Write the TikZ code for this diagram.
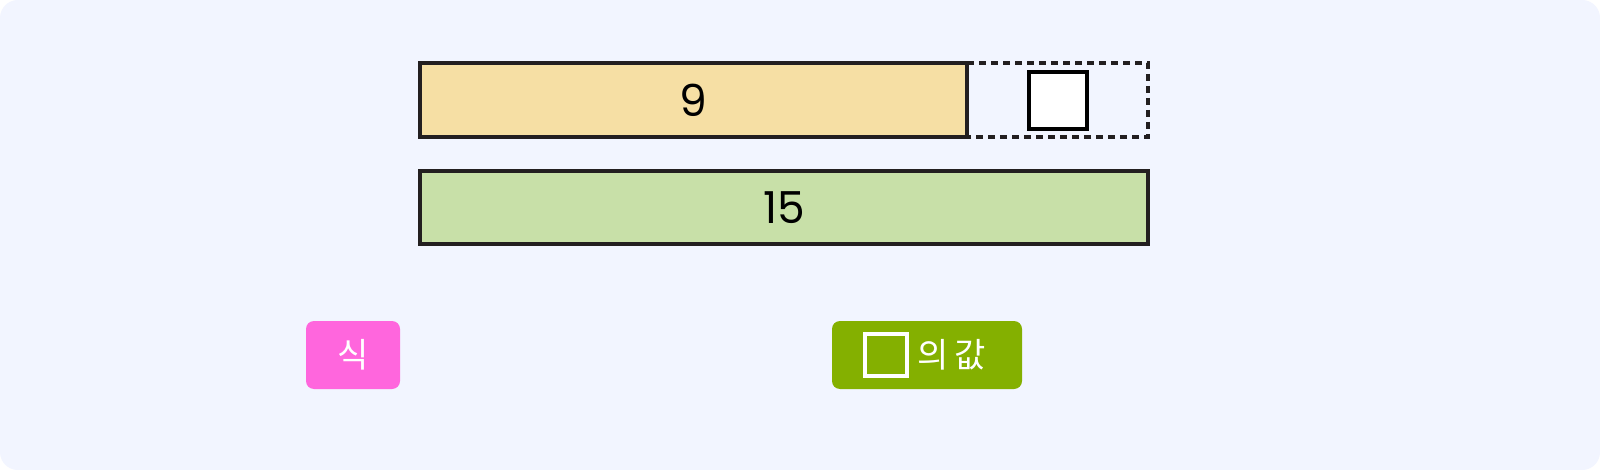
\documentclass[tikz,border=0pt]{standalone}
\usepackage{fontspec}
\setmainfont{Noto Sans CJK KR}
\newfontfamily\digitfont{Poppins}
\definecolor{bgc}{HTML}{F2F5FF}
\definecolor{barY}{HTML}{F6DFA4}
\definecolor{barG}{HTML}{C8E0A8}
\definecolor{pinkB}{HTML}{FF66DD}
\definecolor{oliveB}{HTML}{84B000}
\definecolor{edge}{HTML}{231F20}
\begin{document}
\begin{tikzpicture}[x=1pt,y=-1pt,
  bar/.style={draw=edge,line width=3.5pt},
  btn/.style={rounded corners=8pt},
  lbl/.style={font=\digitfont\fontsize{44}{48}\selectfont,text=black},
  klbl/.style={font=\fontsize{34}{38}\selectfont,text=white}]
\useasboundingbox (0,0) rectangle (1600,470);
\fill[white] (0,0) rectangle (1600,470);
\fill[bgc,rounded corners=18pt] (0,0) rectangle (1600,470);
% bars
\draw[bar,fill=barY] (420,63) rectangle (967,137);
\node[lbl] (nine) at (693.5,100) {9};
\draw[edge,line width=3.5pt,dash pattern=on 7pt off 5pt] (967,63) -- (1148,63) -- (1148,137) -- (967,137);
\draw[black,line width=4.5pt,fill=white] (1029,72) rectangle (1087,129);
\draw[bar,fill=barG] (420,171) rectangle (1148,244);
\node[lbl] (fifteen) at (784,208) {15};
% buttons
\fill[pinkB,btn] (306,321) rectangle (400,389);
\node[klbl] (sik) at (353,355) {식};
\fill[oliveB,btn] (832,321) rectangle (1022,389);
\draw[white,line width=4pt] (865,334) rectangle (907,376);
\node[klbl,anchor=west] (val) at (914,355) {의\,값};
\end{tikzpicture}
\end{document}
